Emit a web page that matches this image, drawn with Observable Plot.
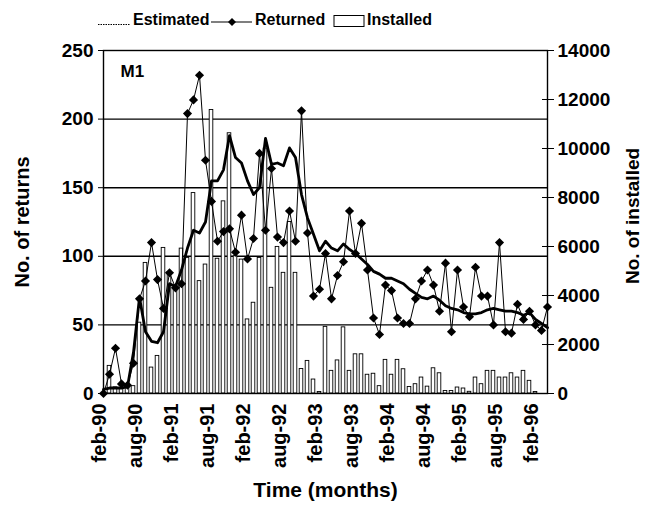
<!DOCTYPE html>
<html>
<head>
<meta charset="utf-8">
<script src="https://cdn.jsdelivr.net/npm/d3@7"></script>
<script src="https://cdn.jsdelivr.net/npm/@observablehq/plot@0.6"></script>
<style>
  body { margin: 0; background: #fff; }
  #wrap { width: 652px; font-family: "Liberation Sans", Arial, sans-serif; font-weight: bold; color: #000; }
  #legend svg, #chart svg { display: block; }
</style>
</head>
<body>
<div id="wrap">
  <div id="legend"></div>
  <div id="chart"></div>
</div>
<script>
// Month index 0 = feb-90 ... 74 = apr-96
const tickLabels = ["feb-90","aug-90","feb-91","aug-91","feb-92","aug-92","feb-93","aug-93","feb-94","aug-94","feb-95","aug-95","feb-96"];
const seriesNames = ["Estimated", "Returned", "Installed"];

const returned = [
  0, 14, 33, 7, 6, 22, 69, 82, 110, 83,
  62, 88, 77, 80, 204, 214, 232, 170, 140, 111,
  118, 120, 103, 130, 98, 113, 175, 119, 164, 114,
  110, 133, 111, 206, 117, 71, 76, 102, 69, 86,
  96, 133, 102, 124, 90, 55, 43, 79, 75, 55,
  51, 51, 69, 82, 90, 79, 60, 95, 45, 90,
  63, 56, 92, 71, 71, 50, 110, 45, 44, 65,
  54, 60, 50, 46, 63
];

const estimated = [
  3, 4, 4, 4, 5, 30, 70, 45, 38, 37,
  45, 80, 78, 90, 106, 119, 117, 125, 155, 155,
  163, 188, 172, 168, 155, 145, 150, 186, 167, 168,
  166, 179, 172, 145, 128, 116, 104, 111, 106, 104,
  109, 105, 102, 98, 94, 89, 87, 84, 84, 82,
  80, 76, 73, 70, 69, 71, 68, 64, 62, 61,
  59, 58, 58, 59, 61, 62, 61, 60, 60, 59,
  57, 59, 54, 51, 48
];

const installed = [
  0, 1127, 250, 200, 250, 300, 2890, 5330, 1058, 1534,
  5942, 4953, 4314, 5914, 5535, 8181, 4587, 5263, 11571, 5500,
  7843, 10623, 5603, 5466, 3024, 3704, 5535, 10000, 4314, 5983,
  4925, 7000, 4925, 1000, 1330, 570, 60, 2720, 924, 1350,
  2700, 924, 1600, 1600, 765, 806, 300, 1372, 765, 1372,
  990, 265, 380, 651, 280, 1030, 826, 100, 100, 244,
  204, 69, 651, 380, 924, 924, 651, 651, 826, 651,
  924, 517, 60, 0, 0
];

const leftTicks = [0, 50, 100, 150, 200, 250];
const gridValues = [50, 100, 150, 200];
const rightTicks = [0, 2000, 4000, 6000, 8000, 10000, 12000, 14000];
const xTickIdx = tickLabels.map((_, j) => j * 6);

const k = 250 / 14000; // installed -> left-axis units

const data = returned.map((r, i) => ({i, returned: r, estimated: estimated[i], installed: installed[i]}));

// Legend (above the SVG)
const lg = d3.select("#legend").append("svg").attr("width", 652).attr("height", 36)
  .style("font-family", '"Liberation Sans", Arial, sans-serif').style("font-weight", "bold").style("font-size", "16px");
lg.append("line").attr("x1", 98).attr("x2", 130).attr("y1", 24.5).attr("y2", 24.5)
  .attr("stroke", "#000").attr("stroke-width", 1).attr("stroke-dasharray", "1.5,1");
lg.append("text").attr("x", 133).attr("y", 24.5).text(seriesNames[0]);
lg.append("line").attr("x1", 211).attr("x2", 252).attr("y1", 22).attr("y2", 22)
  .attr("stroke", "#000").attr("stroke-width", 1.2);
lg.append("path").attr("d", "M232,18L236,22L232,26L228,22Z").attr("fill", "#000");
lg.append("text").attr("x", 255).attr("y", 24.5).text(seriesNames[1]);
lg.append("rect").attr("x", 334).attr("y", 15.5).attr("width", 30).attr("height", 11)
  .attr("fill", "#fff").attr("stroke", "#000").attr("stroke-width", 1);
lg.append("text").attr("x", 367).attr("y", 24.5).text(seriesNames[2]);

const chart = Plot.plot({
  width: 652,
  height: 474,
  marginLeft: 103,
  marginRight: 105,
  marginTop: 14,
  marginBottom: 117,
  x: {domain: [0, 74]},
  y: {domain: [0, 250]},
  style: {fontFamily: '"Liberation Sans", Arial, sans-serif', fontWeight: "bold", fontSize: "19px", color: "#000", background: "#fff"},
  marks: [
    Plot.ruleY(gridValues, {stroke: "#000", strokeWidth: 1.4}),
    Plot.rectY(data, {
      x1: d => d.i - 0.5, x2: d => d.i + 0.5,
      y1: 0, y2: d => d.installed * k,
      insetLeft: 1.2, insetRight: 1.2,
      fill: "#fff", stroke: "#000", strokeWidth: 0.9
    }),
    Plot.lineY(data, {x: "i", y: "estimated", stroke: "#000", strokeWidth: 2.8}),
    Plot.lineY(data, {x: "i", y: "returned", stroke: "#000", strokeWidth: 1}),
    Plot.dot(data, {x: "i", y: "returned", symbol: "diamond2", r: 4.1, fill: "#000", stroke: "none"}),
    Plot.frame({stroke: "#000", strokeWidth: 1.4}),
    Plot.axisY(leftTicks, {anchor: "left", tickSize: 5, tickPadding: 5, label: null, fontSize: 19}),
    Plot.axisY(rightTicks.map(v => v * k), {anchor: "right", tickSize: 6, tickPadding: 4, label: null, fontSize: 19,
      tickFormat: d => String(Math.round(d / k))}),
    Plot.axisY(rightTicks.map(v => v * k), {anchor: "right", tickSize: 6, dx: -6, label: null, tickFormat: () => ""}),
    Plot.axisX(xTickIdx, {anchor: "bottom", tickRotate: -90, tickSize: 0, tickPadding: 10, dx: -4, label: null, fontSize: 20,
      tickFormat: d => tickLabels[Math.round(d / 6)]}),
    Plot.text(["M1"], {frameAnchor: "top-left", dx: 17, dy: 21, textAnchor: "start", lineAnchor: "middle", fontSize: 17, fontWeight: "bold"}),
    Plot.text(["No. of returns"], {frameAnchor: "left", dx: -81, textAnchor: "middle", lineAnchor: "middle", rotate: -90, fontSize: 20, fontWeight: "bold"}),
    Plot.text(["No. of installed"], {frameAnchor: "right", dx: 85, dy: -6, textAnchor: "middle", lineAnchor: "middle", rotate: -90, fontSize: 19, fontWeight: "bold"}),
    Plot.text(["Time (months)"], {frameAnchor: "bottom", dy: 103, textAnchor: "middle", fontSize: 21, fontWeight: "bold"})
  ]
});
document.getElementById("chart").appendChild(chart);
</script>
</body>
</html>
